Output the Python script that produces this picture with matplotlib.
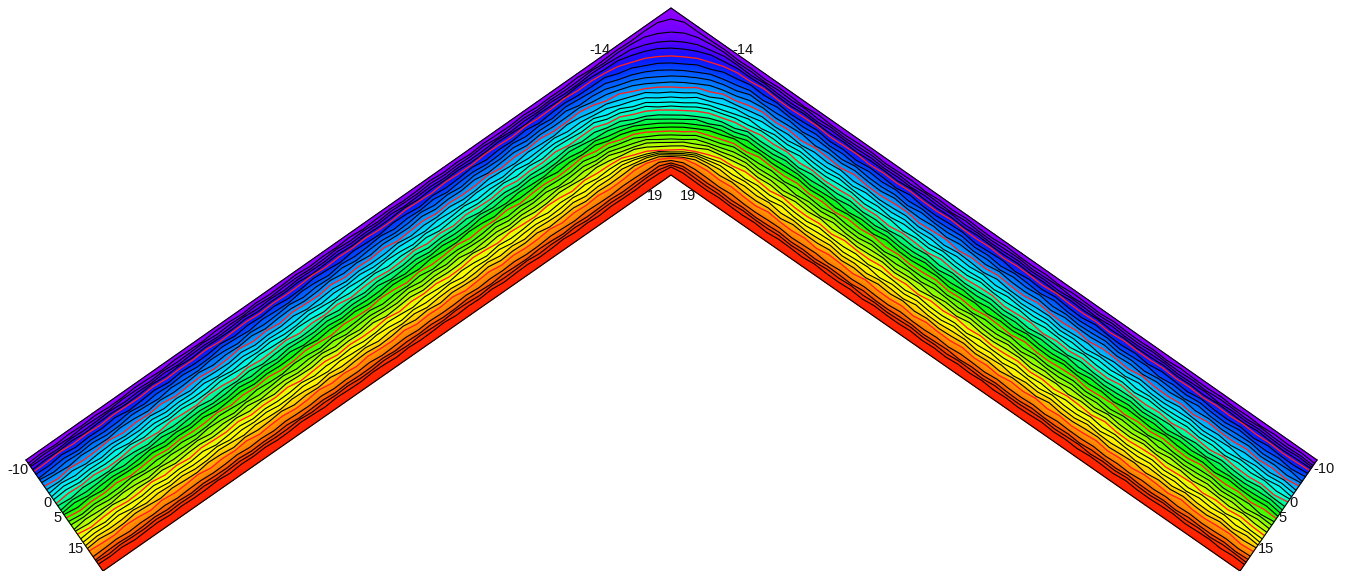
import numpy as np
import matplotlib
matplotlib.use("Agg")
import matplotlib.pyplot as plt
from matplotlib.colors import LinearSegmentedColormap

plt.rcParams["font.family"] = ["Liberation Sans", "DejaVu Sans"]

# contour levels, -15 and 20 are only the outer and inner faces
levels = [-14, -13, -12, -11, -10, -9, -8, -7, -6, -5, -4, -3, -2, -1, 0, 1, 2,
          3, 4, 5, 6, 7, 8, 9, 10, 11, 12, 13, 14, 15, 16, 17, 18, 19]
red_levels = [-10, -5, 0, 5, 10, 15]
face_outer = -15
face_inner = 20

# depth of each level through the wall (0 outer face, 1 inner face)
depth_arm = [.028, .046, .064, .082, .10, .128, .156, .184, .212, .24, .269, .298,
             .327, .356, .385, .414, .443, .472, .501, .53, .559, .588, .617, .646,
             .675, .705, .735, .765, .795, .825, .868, .897, .917, .94]
depth_apex = [.066, .144, .198, .24, .287, .329, .371, .407, .443, .473, .503, .533,
              .563, .587, .611, .641, .665, .689, .713, .737, .76, .784, .805, .826,
              .85, .862, .871, .88, .889, .898, .913, .928, .94, .952]

# rounding of a contour over the apex, as a fraction of its reach along the arm
round_pos = [0, .25, .5, .75, 1]
round_amt = [1, .56, .25, .06, 0]
reach_per_depth = 0.73

# contour jitter in px. estimated by eye from the crops for size and rhythm,
# not traced line by line
wiggle_left = [0.8, -0.4, 1.2, -0.9, 0.3, 1.5, -1.2, 0.5, -0.2, 1.0, -1.4, 0.7,
               0.1, -1.0, 1.3, -0.6, 0.9, -1.5, 0.4, 1.1, -0.7, -0.1, 1.4, -1.1,
               0.6, -0.3, 1.2, -1.3, 0.2, 0.9, -0.8, 1.5, -0.5, -1.2, 1.0, 0.3,
               -0.9, 1.3, -0.2, -1.4, 0.7, 1.1, -1.0, 0.4, -0.6, 1.2, -1.1, 0.5]
wiggle_right = [-0.6, 1.1, 0.2, -1.3, 0.9, -0.3, 1.4, -0.8, -0.1, 1.2, -1.5, 0.6,
                1.0, -0.4, -1.1, 1.3, 0.1, -0.9, 1.5, -0.5, 0.7, -1.2, 0.4, 1.1,
                -1.4, 0.3, 0.8, -0.7, 1.3, -1.0, -0.2, 1.2, -1.3, 0.6, 0.9, -0.6,
                1.4, -1.1, 0.2, 0.5, -1.2, 1.0, -0.3, 1.3, -0.9, 0.4, -1.4, 0.8]
# the lines are packed tighter at the apex, so the jitter is smaller there
calm_pos = [0, .06, .15]
calm_amt = [.2, .6, 1]

# wall outline in image pixels
outer_pts = np.array([[26, 460], [671, 8], [1317, 460]], dtype=float)
inner_pts = np.array([[103, 571], [671, 175], [1240, 571]], dtype=float)

# colours by level
color_vals = [-15, -12, -10, -8, -5, -3, -1, 0, 2, 4, 5, 8, 10, 12, 13, 15, 16, 17, 19, 20]
color_list = ["#9600ff", "#5a00ff", "#0a14ff", "#0050ff", "#00a0ff", "#00e6ff", "#00ffe0",
              "#00ffb0", "#00f860", "#10f800", "#30ff00", "#a0ff00", "#e0ff00", "#ffff00",
              "#ffe800", "#ffa000", "#ff7800", "#ff5000", "#ff2800", "#ff2000"]

tick_text = ["-10", "0", "5", "15", "-14", "19"]
tick_left = [(18, 470), (47, 503), (58, 518), (76, 549), (600, 50), (655, 196)]
tick_right = [(1324, 469), (1294, 503), (1283, 518), (1266, 549), (743, 50), (688, 196)]

n_arm = len(wiggle_left)
pos = np.arange(1, n_arm + 1) / n_arm
s = np.concatenate([-pos[::-1], [0], pos])
calm = np.interp(np.abs(s), calm_pos, calm_amt)

depth = []
for i in range(len(levels)):
    rise = depth_apex[i] - depth_arm[i]
    shift = np.interp(np.abs(s) / (rise * reach_per_depth), round_pos, round_amt)
    scale = 0.6 if i < 5 or i > 29 else 1.0
    left = np.roll(wiggle_left, i * 7)[::-1]
    right = np.roll(wiggle_right, i * 11)
    jitter = np.concatenate([left, [0], right]) * calm * scale / 165.0
    depth.append(depth_arm[i] + rise * shift + jitter)
depth = np.vstack([np.zeros(len(s)), depth, np.ones(len(s))])

z_vals = [face_outer] + levels + [face_inner]
Z = np.repeat(np.array(z_vals, dtype=float)[:, None], len(s), axis=1)

# s=-1..0..1 to points on the outer and inner polylines
t = s + 1
ox = np.interp(t, [0, 1, 2], outer_pts[:, 0])
oy = np.interp(t, [0, 1, 2], outer_pts[:, 1])
ix = np.interp(t, [0, 1, 2], inner_pts[:, 0])
iy = np.interp(t, [0, 1, 2], inner_pts[:, 1])
X = ox * (1 - depth) + ix * depth
Y = oy * (1 - depth) + iy * depth

cmap = LinearSegmentedColormap.from_list(
    "wall", [((v - face_outer) / (face_inner - face_outer), c) for v, c in zip(color_vals, color_list)])

fig = plt.figure(figsize=(13.45, 5.71), dpi=100)
ax = fig.add_axes([0, 0, 1, 1])
ax.pcolormesh(X, Y, Z, shading="gouraud", cmap=cmap, vmin=face_outer, vmax=face_inner)
black = [v for v in levels if v not in red_levels]
ax.contour(X, Y, Z, levels=black, colors="black", linewidths=0.8, linestyles="solid")
ax.contour(X, Y, Z, levels=red_levels, colors="#ff2020", linewidths=1.0, linestyles="solid")

ax.plot(outer_pts[:, 0], outer_pts[:, 1], color="black", lw=0.8)
ax.plot(inner_pts[:, 0], inner_pts[:, 1], color="black", lw=0.8)
ax.plot([outer_pts[0, 0], inner_pts[0, 0]], [outer_pts[0, 1], inner_pts[0, 1]], color="black", lw=0.8)
ax.plot([outer_pts[2, 0], inner_pts[2, 0]], [outer_pts[2, 1], inner_pts[2, 1]], color="black", lw=0.8)

for label, p, q in zip(tick_text, tick_left, tick_right):
    ax.text(p[0], p[1], label, ha="center", va="center", fontsize=10.5, color="#111111")
    ax.text(q[0], q[1], label, ha="center", va="center", fontsize=10.5, color="#111111")

ax.set_xlim(0, 1345)
ax.set_ylim(571, 0)
ax.axis("off")
fig.savefig("out.png", dpi=100)
